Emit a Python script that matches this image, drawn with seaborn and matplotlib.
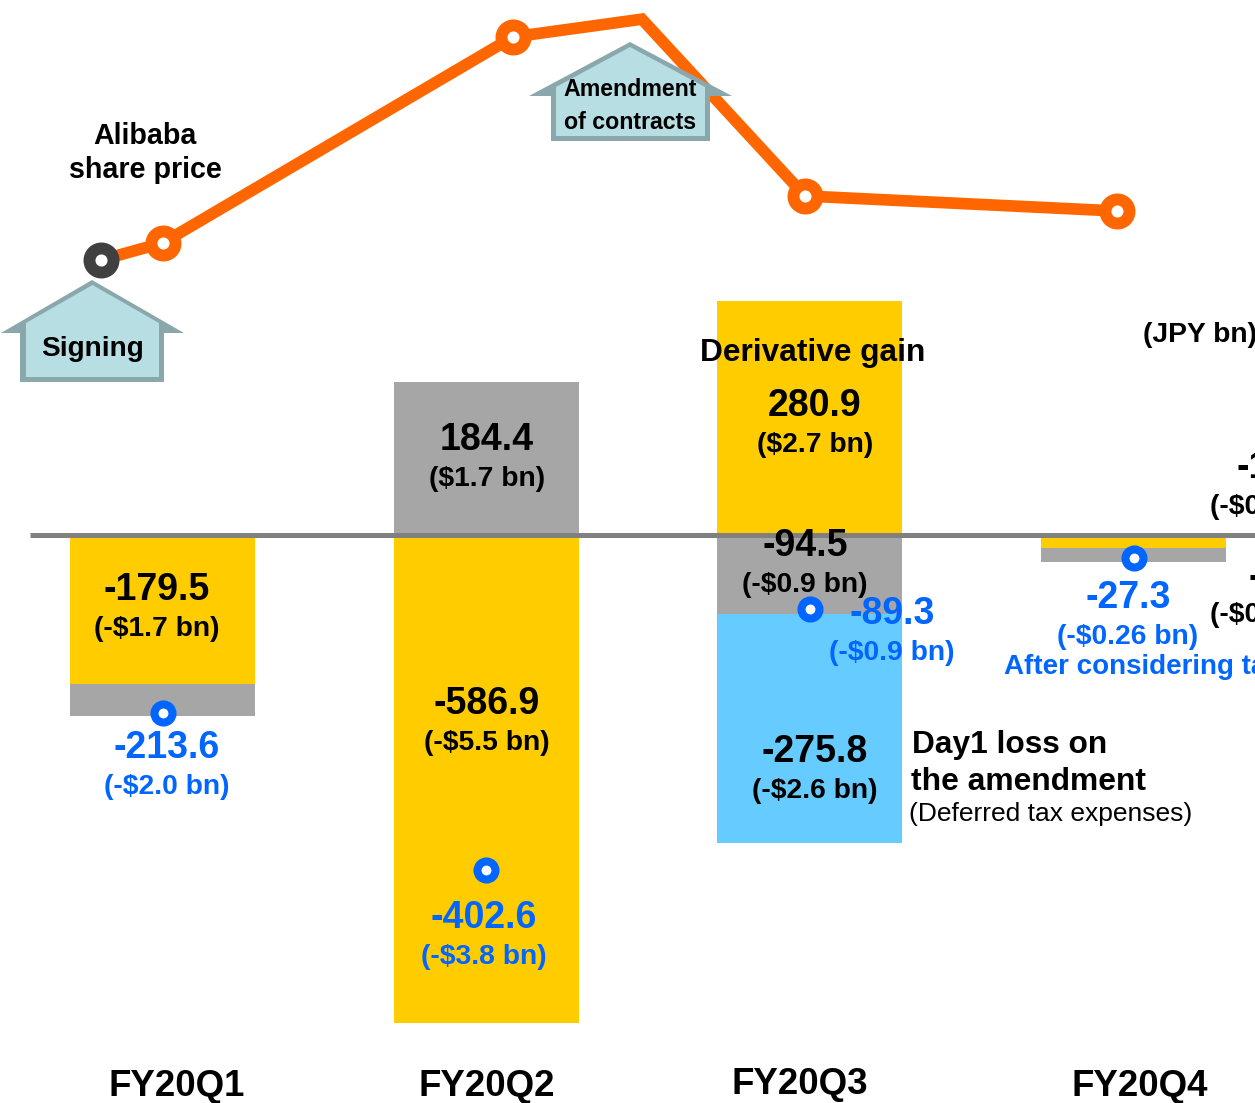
import numpy as np
import matplotlib
matplotlib.use("Agg")
import matplotlib.pyplot as plt
from matplotlib.patches import Polygon
from matplotlib.transforms import Affine2D
import seaborn as sns

quarters = ["FY20Q1", "FY20Q2", "FY20Q3", "FY20Q4"]
derivative = np.array([-179.5, -586.9, 280.9, -16.0])
other = np.array([-38.0, 184.4, -94.5, -16.0])
day1_loss = np.array([0.0, 0.0, -275.8, 0.0])
net_gain = np.array([-213.6, -402.6, -89.3, -27.3])
share_pos = [-0.19, 0.0, 1.083, 1.481, 1.985, 2.948]
share_level = [330.5, 351, 598.6, 620, 407.5, 389.4]
share_marked = [True, True, True, False, True, True]

sns.set_theme(style="white")
plt.rcParams["font.family"] = ["Liberation Sans", "DejaVu Sans"]

W, H = 1255, 1103
SCALE = 0.832
fig = plt.figure(figsize=(W / 100, H / 100), dpi=100)
ax = fig.add_axes([0, 0, 1, 1])
px = Affine2D().scale(1 / W, -1 / H).translate(0, 1) + fig.transFigure

YELLOW, GRAY, BLUE = "#FFCC00", "#A6A6A6", "#66CCFF"
ORANGE, DOT, TXT = "#FF6600", "#0066FF", "#000000"

bar_w = 185 / 323.7
for vals, bot, c in [
    (derivative, np.zeros(4), YELLOW),
    (other, np.where(other * derivative > 0, derivative, 0.0), GRAY),
    (day1_loss, np.where(other < 0, other, 0.0), BLUE),
]:
    sns.barplot(x=quarters, y=vals, bottom=bot, order=quarters, color=c, saturation=1,
                width=bar_w, errorbar=None, linewidth=0, ax=ax, zorder=2)

# baseline
ax.plot([(30 - 162.5) / 323.7, (W - 162.5) / 323.7], [0, 0], color="#808080", lw=3.6, zorder=3,
        solid_capstyle="butt")

# share price line
sns.lineplot(x=share_pos, y=share_level, sort=False, estimator=None, color=ORANGE,
             linewidth=8.4, ax=ax, zorder=4)
ax.lines[-1].set_solid_joinstyle("miter")
mx = [p for p, m in zip(share_pos[1:], share_marked[1:]) if m]
my = [p for p, m in zip(share_level[1:], share_marked[1:]) if m]
sns.scatterplot(x=mx, y=my, s=17.3 ** 2, color="white", edgecolor=ORANGE,
                linewidth=8.6, ax=ax, zorder=5, legend=False)
sns.scatterplot(x=share_pos[:1], y=share_level[:1], s=17.3 ** 2, color="white", edgecolor="#404040",
                linewidth=8.6, ax=ax, zorder=5, legend=False)

# net result dots
sns.scatterplot(x=[0, 1, 2, 3], y=net_gain, s=13 ** 2, color="white", edgecolor=DOT,
                linewidth=5.8, ax=ax, zorder=5, legend=False)
ax.set_xlim(-162.5 / 323.7, (W - 162.5) / 323.7)
ax.set_ylim(-(H - 535) / SCALE, 535 / SCALE)
ax.axis("off")


def house(outer, inner):
    ax.add_patch(Polygon(outer, closed=True, transform=px, facecolor="#8AA7AB", edgecolor="none",
                         zorder=6, clip_on=False))
    ax.add_patch(Polygon(inner, closed=True, transform=px, facecolor="#B7DEE3", edgecolor="none",
                         zorder=6.1, clip_on=False))


house([(1, 333), (92, 280), (184, 333), (164, 333), (164, 382), (20, 382), (20, 333)],
      [(92.5, 285), (159, 323), (159, 377), (26, 377), (26, 323)])
house([(529, 96), (630, 42), (732, 96), (710, 96), (710, 141), (551, 141), (551, 96)],
      [(630, 47), (705, 87), (705, 136), (556, 136), (556, 87)])


def label(x, y, s, size, color=TXT, ha="center", weight="bold"):
    ax.text(x, y + 2.5, s, transform=px, fontsize=size, color=color, ha=ha, va="center", weight=weight,
            zorder=7, clip_on=False)


BIG, MID = 27, 20.3
label(145, 133, "Alibaba", 20.6)
label(145, 168, "share price", 20.6)
label(93, 347, "Signing", 20.2)
label(630, 87.5, "Amendment", 16.7)
label(630, 120, "of contracts", 16.7)
label(1143, 332, "(JPY bn)", 20.3, ha="left")
label(813, 351, "Derivative gain", 22.8)

for x, y, a, b, col in [
    (157, 587, "-179.5", "(-$1.7 bn)", TXT),
    (487, 437, "184.4", "($1.7 bn)", TXT),
    (487, 702, "-586.9", "(-$5.5 bn)", TXT),
    (484, 915, "-402.6", "(-$3.8 bn)", DOT),
    (167, 746, "-213.6", "(-$2.0 bn)", DOT),
    (815, 404, "280.9", "($2.7 bn)", TXT),
    (805, 544, "-94.5", "(-$0.9 bn)", TXT),
    (892, 611, "-89.3", "(-$0.9 bn)", DOT),
    (815, 749, "-275.8", "(-$2.6 bn)", TXT),
    (1128, 595, "-27.3", "(-$0.26 bn)", DOT),
]:
    label(x, y, a, BIG, col)
    label(x, y + 39, b, MID, col)

label(912, 742, "Day1 loss on", 22.8, ha="left")
label(911, 780, "the amendment", 22.9, ha="left")
label(909, 812, "(Deferred tax expenses)", 19, ha="left", weight="normal")
label(1004, 665, "After considering tax effect", 20, DOT, ha="left")

label(1237, 466, "-15.6", BIG, ha="left")
label(1210, 504, "(-$0.15 bn)", MID, ha="left")
label(1248, 575, "-11.7", BIG, ha="left")
label(1210, 612, "(-$0.11 bn)", MID, ha="left")

for x, y, q in zip([177, 487, 800, 1140], [1084, 1084, 1082, 1084], quarters):
    label(x, y, q, 26.4)

fig.savefig("out.png", dpi=100, facecolor="white")
